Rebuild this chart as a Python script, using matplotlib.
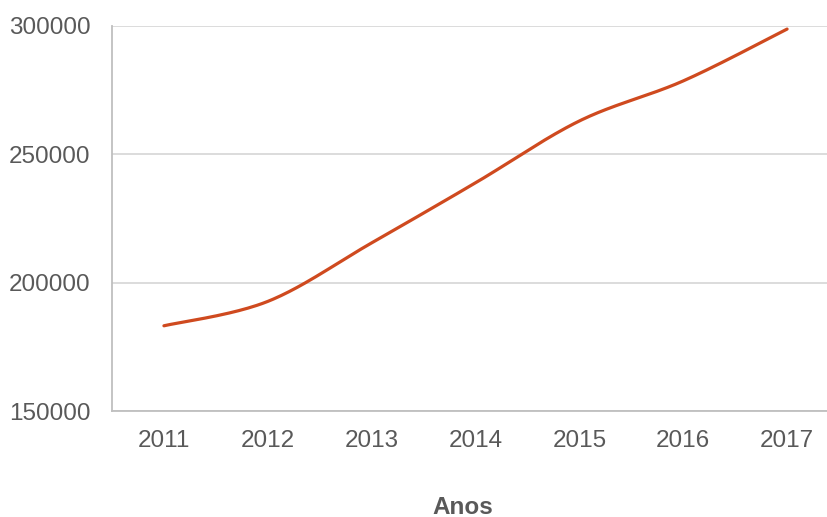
import numpy as np
import matplotlib.pyplot as plt

plt.rcParams['font.family'] = ['Liberation Sans', 'DejaVu Sans']

# dados
anos = [2011, 2012, 2013, 2014, 2015, 2016, 2017]
valores = [183200, 192700, 215500, 238900, 263000, 278600, 298800]
yticks = [150000, 200000, 250000, 300000]


def curva_suave(x, y, n=40):
    """Linha suavizada estilo Excel (Catmull-Rom / Bezier)"""
    x = np.asarray(x, float)
    y = np.asarray(y, float)
    px = np.concatenate([[x[0]], x, [x[-1]]])
    py = np.concatenate([[y[0]], y, [y[-1]]])
    xs, ys = [], []
    t = np.linspace(0, 1, n)
    for i in range(1, len(px) - 2):
        p0 = np.array([px[i], py[i]])
        p3 = np.array([px[i + 1], py[i + 1]])
        p1 = p0 + (np.array([px[i + 1], py[i + 1]]) - np.array([px[i - 1], py[i - 1]])) / 6
        p2 = p3 - (np.array([px[i + 2], py[i + 2]]) - np.array([px[i], py[i]])) / 6
        b = ((1 - t) ** 3)[:, None] * p0 + (3 * (1 - t) ** 2 * t)[:, None] * p1 \
            + (3 * (1 - t) * t ** 2)[:, None] * p2 + (t ** 3)[:, None] * p3
        xs.extend(b[:, 0])
        ys.extend(b[:, 1])
    return xs, ys


fig = plt.figure(figsize=(8.27, 5.17), dpi=100)
ax = fig.add_axes([112 / 827, 106 / 517, 727 / 827, 385 / 517])

sx, sy = curva_suave(anos, valores)
ax.plot(sx, sy, color='#CF4A1F', linewidth=2.3, solid_capstyle='round', zorder=3)

ax.set_xlim(2010.5, 2017.5)
ax.set_ylim(150000, 300000)
ax.set_yticks(yticks)
ax.set_xticks(anos)
ax.set_xticklabels([str(a) for a in anos])
ax.grid(axis='y', color='#D9D9D9', linewidth=1.3)
ax.set_axisbelow(True)

for s in ['top', 'right']:
    ax.spines[s].set_visible(False)
for s in ['left', 'bottom']:
    ax.spines[s].set_color('#BFBFBF')
    ax.spines[s].set_linewidth(1.3)

ax.tick_params(axis='both', length=0, labelsize=17.5, colors='#595959')
ax.tick_params(axis='y', pad=15.5)
ax.tick_params(axis='x', pad=14)
ax.set_clip_on(False)

fig.text(463 / 827, 1 - 507 / 517, 'Anos', ha='center', va='center',
         fontsize=17.5, fontweight='bold', color='#595959')

fig.savefig('out.png', dpi=100)
